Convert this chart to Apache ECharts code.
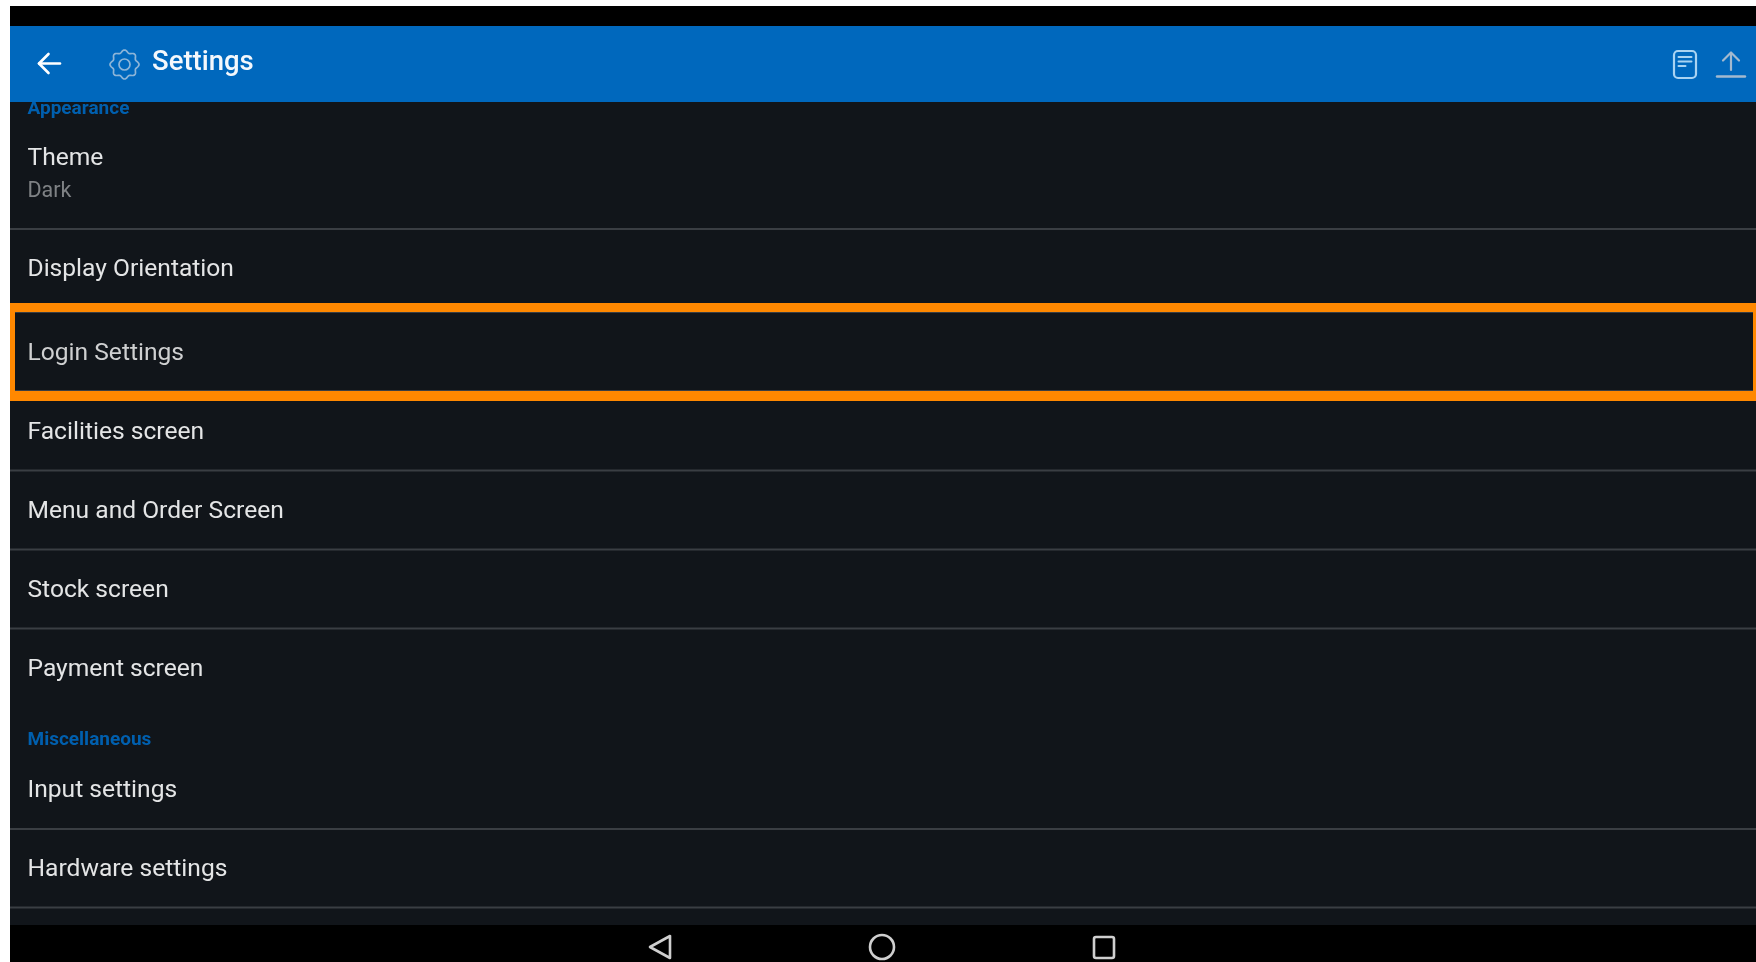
<!DOCTYPE html>
<html><head><meta charset="utf-8">
<style>html,body{margin:0;padding:0;background:#fff;overflow:hidden}#c{width:1756px;height:962px;filter:blur(0.55px)}</style>
<script src="https://cdn.jsdelivr.net/npm/echarts@6/dist/echarts.min.js"></script>
</head><body><div id="c"></div>
<script>
const headerTitle = 'Settings';
const sectionLabels = ['Appearance', 'Miscellaneous'];
const rowLabels = ['Theme','Display Orientation','Login Settings','Facilities screen','Menu and Order Screen','Stock screen','Payment screen','Input settings','Hardware settings'];
const subLabels = ['Dark'];

const rowCenters = [159,269.5,353.5,432.5,511.5,590.5,669.5,790.5,869.5];
const sectionCenters = [109,740];
const subCenters = [192];
const separators = [229,312,391,470.5,549.5,628.5,829,907.5];

const FONT = 'Roboto, sans-serif';
const L = 10, R = 1756;
const els = [];
const rect = (x,y,w,h,fill,z) => els.push({type:'rect',z:z||1,shape:{x,y,width:w,height:h},style:{fill}});
const text = (x,y,t,size,fill,weight,z) => els.push({type:'text',z:z||5,x,y,style:{text:t,fill,font:(weight||400)+' '+size+'px '+FONT,textAlign:'left',textVerticalAlign:'middle'}});
const stroke = (type,shape,color,w,z) => els.push({type,z:z||8,shape,style:{stroke:color,lineWidth:w,fill:'none',lineCap:'round',lineJoin:'round'}});

rect(L,6,R-L,20,'#000000',1);
rect(L,26,R-L,899,'#11151a',1);
rect(L,925,R-L,37,'#000000',1);

separators.forEach(y => rect(L,y-1,R-L,2,'#3a3e43',2));

rowLabels.forEach((t,i) => text(27.5,rowCenters[i],t,24.6,i===2?'#cfd0d1':'#e4e5e6',400));
subLabels.forEach((t,i) => text(27.5,subCenters[i],t,21.5,'#7f8285',400));
sectionLabels.forEach((t,i) => text(27.5,sectionCenters[i],t,19,'#005fae',700));

/* orange highlight */
rect(L,303,R-L,9,'#ff8800',3);
rect(L,391,R-L,10,'#ff8800',3);
rect(L,303,5,98,'#ff8800',3);
rect(1753,303,3,98,'#ff8800',3);

/* header drawn above the scrolled section label */
rect(L,26,R-L,76,'#0068bd',6);
text(152,63.5,headerTitle,27.5,'#f4f8fc',500,9);

/* back arrow */
stroke('line',{x1:39,y1:63.5,x2:60,y2:63.5},'#ffffff',2.6,9);
stroke('polyline',{points:[[48.5,54],[39,63.5],[48.5,73]]},'#ffffff',2.6,9);

/* gear */
const gear = [];
for (let k=0;k<128;k++){const a=k/128*2*Math.PI;const r=13.2+1.3*Math.cos(8*a);gear.push([124.5+r*Math.cos(a),64.5+r*Math.sin(a)]);}
els.push({type:'polygon',z:9,shape:{points:gear},style:{stroke:'#8db5d8',lineWidth:1.7,fill:'none'}});
stroke('circle',{cx:124.5,cy:64.5,r:5.5},'#8db5d8',1.7,9);

/* document icon */
els.push({type:'rect',z:9,shape:{x:1674,y:51,width:22,height:27,r:4},style:{stroke:'#a9d3f2',lineWidth:2.2,fill:'none'}});
stroke('line',{x1:1678.5,y1:57,x2:1691.5,y2:57},'#a9d3f2',2,9);
stroke('line',{x1:1678.5,y1:61.5,x2:1691.5,y2:61.5},'#a9d3f2',2,9);
stroke('line',{x1:1678.5,y1:66,x2:1685.5,y2:66},'#a9d3f2',2,9);

/* upload icon */
stroke('line',{x1:1731,y1:53,x2:1731,y2:70},'#a3b9cf',2.2,9);
stroke('polyline',{points:[[1723,60.5],[1731,52.5],[1739,60.5]]},'#a3b9cf',2.2,9);
stroke('line',{x1:1717,y1:76.5,x2:1745,y2:76.5},'#a3b9cf',2.4,9);

/* navigation bar */
stroke('polygon',{points:[[650,947],[670,936],[670,958]]},'#cfcfcf',2.6,9);
stroke('circle',{cx:882,cy:947,r:12},'#cfcfcf',2.6,9);
els.push({type:'rect',z:9,shape:{x:1094,y:937,width:20,height:21,r:2},style:{stroke:'#cfcfcf',lineWidth:2.6,fill:'none'}});

const chart = echarts.init(document.getElementById('c'),null,{width:1756,height:962});
chart.setOption({backgroundColor:'#ffffff',animation:false,graphic:{elements:els}});
</script></body></html>
